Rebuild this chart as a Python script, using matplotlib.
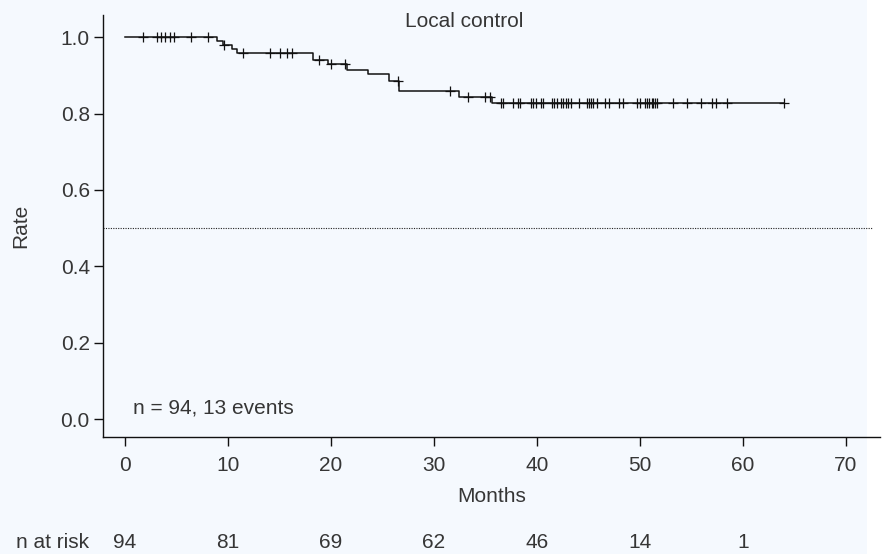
import numpy as np
import matplotlib
matplotlib.use("Agg")
from matplotlib import pyplot as plt
from matplotlib.patches import Rectangle

plt.rcParams['font.family'] = ['Liberation Sans', 'DejaVu Sans']

# ==========================
# Data
# ==========================
event_times = [8.93, 9.51, 10.39, 10.87, 18.25, 19.71, 21.55, 23.59,
               25.63, 26.60, 32.43, 35.63]
event_levels = [0.9895, 0.979, 0.968, 0.958, 0.939, 0.929, 0.913, 0.902,
                0.886, 0.858, 0.842, 0.827]
censor_times = [1.75, 3.06, 3.45, 3.88, 4.32, 4.76, 6.41, 8.06, 9.61, 11.46,
                14.08, 15.05, 15.73, 16.21, 18.83, 20.0, 21.36, 26.50,
                31.55, 33.30, 34.95, 35.44, 36.48, 36.67, 37.64, 38.18,
                38.35, 39.39, 39.58, 39.90, 40.39, 40.55, 41.43, 41.65,
                41.91, 42.33, 42.55, 42.82, 43.04, 43.27, 44.11, 44.88,
                45.08, 45.24, 45.41, 45.80, 46.60, 46.99, 47.99, 48.32,
                49.68, 50.0, 50.49, 50.68, 50.90, 51.14, 51.29, 51.46,
                51.62, 53.23, 54.59, 55.89, 56.96, 57.33, 58.45, 63.98]
risk_times = [0, 10, 20, 30, 40, 50, 60]
n_at_risk = [94, 81, 69, 62, 46, 14, 1]

title = "Local control"
summary = "n = 94, 13 events"

# ==========================
# Figure
# ==========================
bg = '#f5f9fe'
txt = '#363636'
fs = 15
fig = plt.figure(figsize=(8.88, 5.54), dpi=100, facecolor='white')
fig.patches.append(Rectangle((0, 0), 867 / 888, 1, transform=fig.transFigure,
                             facecolor=bg, edgecolor='none', zorder=-10))
ax = fig.add_axes([0.116, 0.2112, 0.875, 0.762])
ax.set_facecolor('none')

# KM step curve
times = np.array([0] + event_times + [max(censor_times)])
surv = np.array([1.0] + event_levels + [event_levels[-1]])
ax.step(times, surv, where='post', color='#111111', lw=1.1)

# censor marks sit on the curve
idx = np.searchsorted(times, censor_times, side='right') - 1
ax.plot(censor_times, surv[idx], ls='none', marker='+', ms=7.5, mew=0.9,
        color='#111111')

ax.axhline(0.5, color='#222222', lw=0.8, ls=(0, (1, 1.2)), xmax=0.99)

ax.set_xlim(-2.14, 73.3)
ax.set_ylim(-0.046, 1.058)
ax.set_xticks(np.arange(0, 71, 10))
ax.set_yticks(np.arange(0, 1.01, 0.2))
ax.set_yticklabels(['%.1f' % v for v in np.arange(0, 1.01, 0.2)])
for s in ['top', 'right']:
    ax.spines[s].set_visible(False)
for s in ['left', 'bottom']:
    ax.spines[s].set_color('#111111')
    ax.spines[s].set_linewidth(1.0)
ax.tick_params(direction='out', length=6.5, width=1.0, color='#111111',
               labelsize=fs, labelcolor=txt)
ax.tick_params(axis='x', pad=7)
ax.tick_params(axis='y', pad=3)

ax.set_xlabel("Months", fontsize=fs, color=txt, labelpad=9)
ax.set_ylabel("Rate", fontsize=fs, color=txt, labelpad=22)

ax.text(0.465, 0.985, title, transform=ax.transAxes, ha='center', va='center',
        fontsize=fs, color=txt)
ax.text(0.8, 0.03, summary, ha='left', va='center', fontsize=fs, color=txt)

# number at risk row
risk_y = 1 - 543 / 554
for t, n in zip(risk_times, n_at_risk):
    xf = fig.transFigure.inverted().transform(ax.transData.transform((t, 0)))[0]
    fig.text(xf, risk_y, str(n), ha='center', va='center', fontsize=fs, color=txt)
fig.text(53 / 888, risk_y, "n at risk", ha='center', va='center', fontsize=fs,
         color=txt)

fig.savefig("out.png", dpi=100, facecolor=fig.get_facecolor())
